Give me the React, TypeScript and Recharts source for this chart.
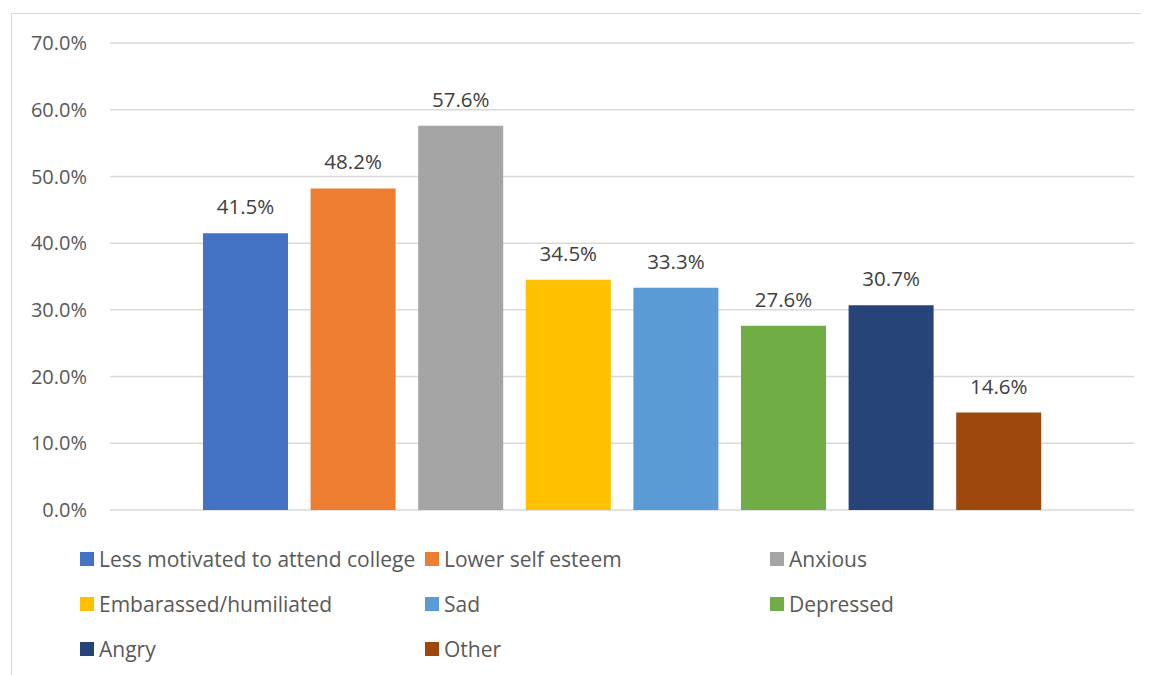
import { BarChart, Bar, XAxis, YAxis, CartesianGrid, Legend, LabelList } from 'recharts'

// one bar per reaction, all in a single category group
const reactions = [
  'Less motivated to attend college',
  'Lower self esteem',
  'Anxious',
  'Embarassed/humiliated',
  'Sad',
  'Depressed',
  'Angry',
  'Other',
]
const shares = [41.5, 48.2, 57.6, 34.5, 33.3, 27.6, 30.7, 14.6]
const palette = ['#4472C4', '#ED7D31', '#A5A5A5', '#FFC000', '#5B9BD5', '#70AD47', '#264478', '#9E480E']
const yTicks = [0, 10, 20, 30, 40, 50, 60, 70]

const keys = reactions.map((_, i) => `s${i}`)
const row: Record<string, number | string> = { name: '' }
keys.forEach((k, i) => { row[k] = shares[i] })
const data = [row]

const FONT = '"Open Sans", "Noto Sans", sans-serif'
const pct = (v: number) => `${Number(v).toFixed(1)}%`

function LegendGrid() {
  return (
    <div
      style={{
        display: 'grid',
        gridTemplateColumns: '345px 345px 345px',
        gridAutoRows: '45px',
        paddingTop: 26,
        paddingLeft: 68,
        fontFamily: FONT,
        fontSize: 21,
        color: '#595959',
      }}
    >
      {reactions.map((name, i) => (
        <div key={name} style={{ display: 'flex', alignItems: 'center', whiteSpace: 'nowrap' }}>
          <span style={{ width: 14, height: 14, background: palette[i], marginRight: 5, flex: 'none' }} />
          {name}
        </div>
      ))}
    </div>
  )
}

export default function App() {
  return (
    <div
      style={{
        marginLeft: 3,
        marginTop: 5,
        width: 1160,
        height: 700,
        border: '1px solid #d9d9d9',
        background: '#fff',
        boxSizing: 'border-box',
      }}
    >
      <BarChart
        width={1145}
        height={680}
        data={data}
        margin={{ top: 29, right: 23, bottom: 23, left: 0 }}
        barSize={85}
        barGap={22.6}
      >
        <CartesianGrid vertical={false} stroke="#d9d9d9" strokeWidth={1.5} />
        <XAxis dataKey="name" hide />
        <YAxis
          width={98}
          domain={[0, 70]}
          ticks={yTicks}
          tickFormatter={pct}
          axisLine={false}
          tickLine={false}
          tickSize={0}
          tickMargin={23}
          tick={{ fontSize: 20, fill: '#595959', fontFamily: FONT }}
        />
        <Legend content={() => <LegendGrid />} verticalAlign="bottom" />
        {keys.map((k, i) => (
          <Bar key={k} dataKey={k} name={reactions[i]} fill={palette[i]} isAnimationActive={false}>
            <LabelList
              dataKey={k}
              position="top"
              offset={19}
              formatter={(v: any) => pct(v)}
              style={{ fontSize: 20.5, fill: '#404040', fontFamily: FONT }}
            />
          </Bar>
        ))}
      </BarChart>
    </div>
  )
}
